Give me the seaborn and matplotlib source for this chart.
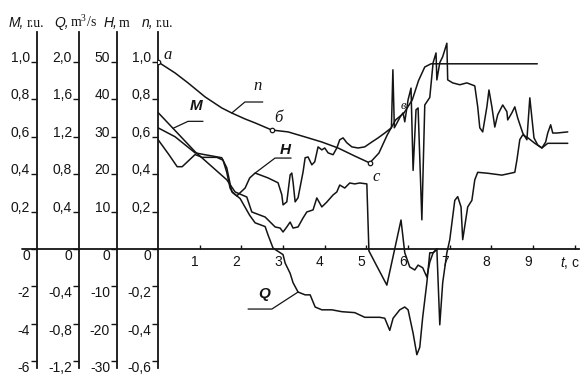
import numpy as np
import matplotlib
matplotlib.use("Agg")
import matplotlib.pyplot as plt
import matplotlib.transforms as mtransforms
import seaborn as sns

# ---------------- data ----------------
# speed n, r.u.
n_t = [0, 0.41, 0.72, 1.13, 1.53, 1.77, 2.09, 2.33, 2.73, 3.12, 3.53, 3.93, 4.32, 4.72,
       5.08, 5.3, 5.5, 5.7, 5.9, 6.1, 6.25, 6.4, 6.55, 9.1]
n_val = [1.0, 0.941, 0.888, 0.813, 0.754, 0.727, 0.695, 0.674, 0.636, 0.626, 0.599,
         0.572, 0.54, 0.497, 0.46, 0.513, 0.61, 0.69, 0.727, 0.797, 0.90, 0.973, 0.99,
         0.99]

# torque M, r.u.
M_t = [0, 0.89, 1.65, 1.85, 2.13, 2.25, 2.57, 2.81, 2.93, 3.0, 3.09, 3.17, 3.24, 3.36,
       3.48, 3.57, 3.72, 3.81, 3.93, 4.05, 4.2, 4.29, 4.36, 4.48, 4.6, 4.72, 4.84, 5.01,
       5.06, 5.2, 5.49, 5.83, 5.92, 6.04, 6.16, 6.24, 6.35, 6.45, 6.52, 6.6, 6.7]
M_val = [0.73, 0.52, 0.37, 0.305, 0.278, 0.198, 0.171, 0.118, 0.112, 0.091, 0.118, 0.144,
         0.112, 0.118, 0.166, 0.198, 0.209, 0.273, 0.225, 0.251, 0.289, 0.305, 0.342,
         0.326, 0.353, 0.348, 0.353, 0.348, -0.1, -0.7, -1.93, 0.155, -0.2, -0.96, -1.12,
         -0.86, -1.0, -1.5, -0.7, -0.2, 0.0]

# head H, m
H_t = [0, 0.41, 0.89, 1.13, 1.53, 1.65, 1.77, 1.89, 2.09, 2.2, 2.33, 2.64, 2.88, 2.97,
       3.0, 3.09, 3.17, 3.21, 3.24, 3.29, 3.36, 3.48, 3.53, 3.6, 3.69, 3.76, 3.84, 3.93,
       4.0, 4.08, 4.2, 4.29, 4.36, 4.44, 4.53, 4.65, 4.8, 4.96, 5.13, 5.28, 5.44, 5.6,
       5.635, 5.67, 5.81, 5.88, 5.92, 6.0, 6.07, 6.12, 6.19, 6.24, 6.33, 6.4, 6.52, 6.6,
       6.67, 6.69, 6.76, 6.83, 6.93, 6.95, 7.07, 7.24, 7.41, 7.6, 7.67, 7.72, 7.79, 7.89,
       7.94, 8.01, 8.08, 8.15, 8.27, 8.37, 8.39, 8.49, 8.56, 8.63, 8.75, 8.85, 8.92, 9.02,
       9.11, 9.21, 9.3, 9.35, 9.42, 9.47, 9.57, 9.83]
H_val = [32.4, 30.0, 25.7, 25.2, 24.4, 21.7, 15.3, 14.2, 16.3, 19.0, 20.3, 19.0, 17.7,
         14.5, 11.8, 12.6, 19.8, 20.3, 17.9, 12.6, 13.7, 20.6, 24.4, 24.6, 22.5, 23.3,
         27.3, 26.5, 27.0, 25.7, 25.2, 27.0, 29.2, 29.7, 28.4, 27.3, 27.0, 27.3, 28.6,
         29.7, 31.0, 32.4, 47.9, 32.4, 35.3, 36.4, 34.0, 39.9, 43.0, 21.0, 37.2, 37.7,
         7.8, 38.5, 40.5, 49.8, 52.4, 45.2, 49.8, 51.4, 55.0, 45.2, 44.4, 43.9, 44.4,
         43.6, 38.0, 32.4, 31.3, 38.0, 42.5, 38.0, 32.6, 35.9, 38.5, 36.7, 34.5, 36.4,
         38.0, 35.0, 31.0, 29.2, 40.4, 29.7, 27.8, 27.0, 28.6, 31.0, 33.2, 31.0, 31.0, 31.3]

# discharge Q, m3/s
Q_t = [0, 0.26, 0.46, 0.58, 0.89, 1.06, 1.41, 1.56, 1.65, 1.73, 1.8, 1.97, 2.2, 2.33,
       2.57, 2.64, 2.76, 3.0, 3.05, 3.17, 3.24, 3.36, 3.53, 3.65, 3.77, 3.93, 4.17, 4.41,
       4.72, 4.96, 5.13, 5.32, 5.44, 5.56, 5.64, 5.8, 5.92, 6.0, 6.12, 6.21, 6.28, 6.35,
       6.45, 6.52, 6.6, 6.69, 6.76, 6.83, 6.93, 7.0, 7.12, 7.19, 7.27, 7.31, 7.43, 7.53,
       7.6, 7.67, 7.91, 8.25, 8.56, 8.61, 8.68, 8.75, 8.87, 9.04, 9.21, 9.35, 9.52, 9.83]
Q_val = [1.17, 1.01, 0.88, 0.88, 1.01, 0.98, 0.98, 0.95, 0.82, 0.65, 0.60, 0.54, 0.36,
         0.28, 0.24, 0.15, 0.01, -0.06, -0.15, -0.26, -0.36, -0.46, -0.49, -0.49, -0.62,
         -0.65, -0.65, -0.67, -0.68, -0.73, -0.73, -0.73, -0.74, -0.87, -0.74, -0.65,
         -0.62, -0.65, -0.90, -1.13, -1.05, -0.73, -0.36, -0.04, -0.04, 0.0, -0.81, -0.36,
         -0.04, 0.10, 0.52, 0.56, 0.45, 0.10, 0.45, 0.52, 0.74, 0.82, 0.81, 0.79, 0.82,
         0.95, 1.17, 1.22, 1.19, 1.13, 1.08, 1.13, 1.13, 1.13]

# marked states on the speed curve
point_t = [0, 2.73, 5.08]

# tick values and labels
t_ticks = [1, 2, 3, 4, 5, 6, 7, 8, 9, 10]
t_ticklabels = ["1", "2", "3", "4", "5", "6", "7", "8", "9", "$t$, c"]
n_ticks = [-0.6, -0.4, -0.2, 0, 0.2, 0.4, 0.6, 0.8, 1.0]
n_ticklabels = ["-0,6", "-0,4", "-0,2", "0", "0,2", "0,4", "0,6", "0,8", "1,0"]
M_ticks = [-6, -4, -2, 0, 0.2, 0.4, 0.6, 0.8, 1.0]
M_ticklabels = ["-6", "-4", "-2", "0", "0,2", "0,4", "0,6", "0,8", "1,0"]
Q_ticks = [-1.2, -0.8, -0.4, 0, 0.4, 0.8, 1.2, 1.6, 2.0]
Q_ticklabels = ["-1,2", "-0,8", "-0,4", "0", "0,4", "0,8", "1,2", "1,6", "2,0"]
H_ticks = [-30, -20, -10, 0, 10, 20, 30, 40, 50]
H_ticklabels = ["-30", "-20", "-10", "0", "10", "20", "30", "40", "50"]

# ---------------- style ----------------
sns.set_style("white")
plt.rcParams["font.family"] = ["Liberation Sans", "DejaVu Sans"]
plt.rcParams["mathtext.fontset"] = "custom"
plt.rcParams["mathtext.it"] = "Liberation Sans:italic"
plt.rcParams["mathtext.rm"] = "Liberation Sans"

INK = "#141414"
W, HP = 587, 378
fig = plt.figure(figsize=(W / 100, HP / 100), dpi=100)
fig.patch.set_facecolor("white")

left_px, right_px, top_px, bot_px = 158, 579, 32, 368
ax = fig.add_axes([left_px / W, 1 - bot_px / HP, (right_px - left_px) / W,
                   (bot_px - top_px) / HP])
N_LIM = (-0.636, 1.16)
ax.set_xlim(0, 10.1)
ax.set_ylim(*N_LIM)


def spine_pos(px):
    return (px - left_px) / (right_px - left_px)


def m_fwd(m):
    m = np.asarray(m, float)
    return np.where(m >= 0, m, m / 10.0)


def m_inv(v):
    v = np.asarray(v, float)
    return np.where(v >= 0, v, v * 10.0)


axH = ax.twinx()
axQ = ax.twinx()
axM = ax.twinx()
axM.set_yscale("function", functions=(m_fwd, m_inv))


def setup_y(a, pos, ticks, labels, lim):
    a.set_ylim(*lim)
    for s in ["top", "right", "bottom"]:
        a.spines[s].set_visible(False)
    a.spines["left"].set_visible(True)
    a.spines["left"].set_position(("axes", pos))
    a.spines["left"].set_linewidth(1.3)
    a.spines["left"].set_color(INK)
    a.yaxis.set_ticks_position("left")
    a.set_yticks(ticks)
    a.set_yticklabels(labels)
    a.tick_params(axis="y", direction="out", length=4, width=1.0, pad=1,
                  labelsize=10, colors=INK)
    for v, lab in zip(ticks, a.get_yticklabels()):
        lab.set_va("baseline" if v > 0 else "top")


setup_y(ax, 0.0, n_ticks, n_ticklabels, N_LIM)
setup_y(axH, spine_pos(117), H_ticks, H_ticklabels, (N_LIM[0] * 50, N_LIM[1] * 50))
setup_y(axQ, spine_pos(79), Q_ticks, Q_ticklabels, (N_LIM[0] * 2, N_LIM[1] * 2))
setup_y(axM, spine_pos(37), M_ticks, M_ticklabels, (N_LIM[0] * 10, N_LIM[1]))

# time axis through zero
ax.spines["bottom"].set_visible(True)
ax.spines["bottom"].set_position(("data", 0))
ax.spines["bottom"].set_linewidth(1.3)
ax.spines["bottom"].set_color(INK)
ax.xaxis.set_ticks_position("bottom")
ax.set_xticks(t_ticks)
ax.set_xticklabels(t_ticklabels)
ax.tick_params(axis="x", direction="in", length=3, width=1.0, pad=4, labelsize=10,
               colors=INK)
shift = mtransforms.ScaledTranslation(-5 / 100, 0, fig.dpi_scale_trans)
for lab in ax.get_xticklabels():
    lab.set_transform(lab.get_transform() + shift)
ax.axhline(0, xmin=(22 - left_px) / (right_px - left_px), xmax=0, clip_on=False,
           color=INK, lw=1.3)

# ---------------- curves ----------------
kw = dict(color=INK, linewidth=1.1, estimator=None, sort=False, legend=False)
sns.lineplot(x=n_t, y=n_val, ax=ax, **kw)
sns.lineplot(x=H_t, y=H_val, ax=axH, **kw)
sns.lineplot(x=Q_t, y=Q_val, ax=axQ, **kw)
sns.lineplot(x=M_t, y=M_val, ax=axM, **kw)
ax.plot(point_t, np.interp(point_t, n_t, n_val), "o", ms=3.2, mfc="white",
        mec=INK, mew=0.9, zorder=5)

# ---------------- curve labels ----------------
serif_it = dict(family="Liberation Serif", style="italic", color=INK, ha="center",
                va="center")
bold_it = dict(family="Liberation Sans", style="italic", weight="bold", color=INK,
               ha="center", va="center", fontsize=11)
ax.text(0.24, 1.037, "a", fontsize=12, **serif_it)
ax.text(2.38, 0.872, "n", fontsize=12, **serif_it)
ax.text(2.88, 0.70, "б", fontsize=12, **serif_it)
ax.text(5.23, 0.385, "c", fontsize=12, **serif_it)
ax.text(5.88, 0.765, "в", fontsize=9, **serif_it)
ax.text(0.91, 0.765, "M", **bold_it)
ax.text(3.05, 0.529, "H", **bold_it)
ax.text(2.54, -0.241, "Q", **bold_it)

# leader lines from each label to its curve (points taken on the curves)
t_lead_n, t_lead_M, t_lead_H, t_lead_Q = 1.77, 0.36, 2.33, 3.36
leaders = [
    ((t_lead_n, np.interp(t_lead_n, n_t, n_val)), (31, 11), 40),
    ((t_lead_M, np.interp(t_lead_M, M_t, M_val)), (30, 7), 25),
    ((t_lead_H, np.interp(t_lead_H, H_t, H_val) / 50), (36, 15), 37),
    ((t_lead_Q, np.interp(t_lead_Q, Q_t, Q_val) / 2), (-50, -17), 33),
]
lead = dict(arrowstyle="-", color=INK, lw=0.9, shrinkA=0, shrinkB=0)
for xy, off, ang in leaders:
    ax.annotate("", xy=xy, xytext=off, textcoords="offset pixels",
                arrowprops=dict(connectionstyle=f"angle,angleA=0,angleB={ang},rad=0",
                                **lead))

# ---------------- axis titles ----------------
def title(x_letter, x_unit, letter, unit):
    y = 1 - 27 / HP
    fig.text(x_letter / W, y, letter, family="Liberation Sans", style="italic",
             fontsize=10, color=INK, va="baseline")
    fig.text(x_unit / W, y, unit, family="Liberation Serif", fontsize=10, color=INK,
             va="baseline")


title(9, 27, "M,", "r.u.")
title(54, 70, "Q,", "m$^{\\mathregular{3}}$/s")
title(104, 119, "H,", "m")
title(142, 156, "n,", "r.u.")

fig.savefig("out.png", dpi=100, facecolor="white")
